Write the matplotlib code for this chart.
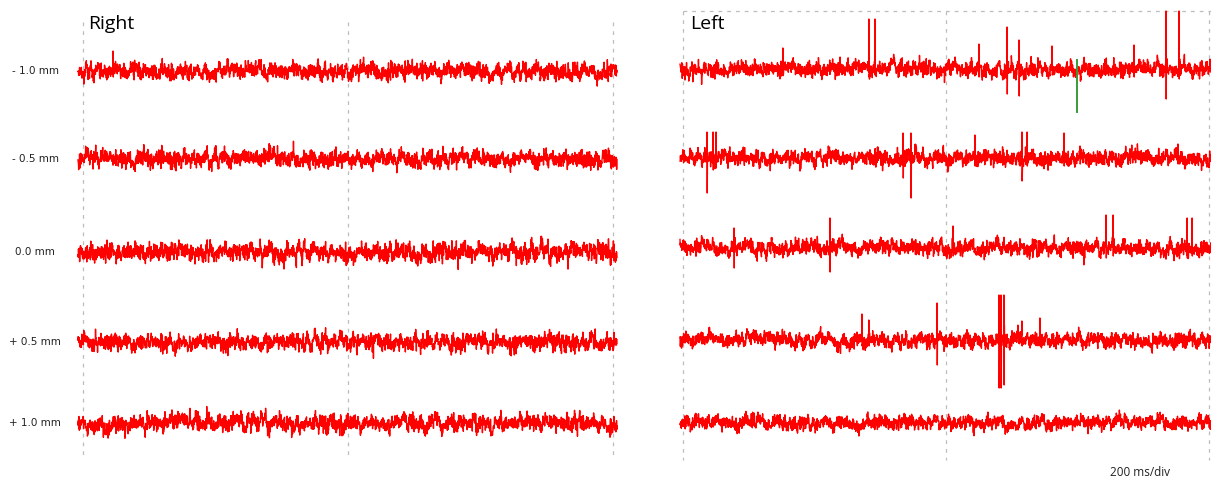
import numpy as np
import matplotlib.pyplot as plt

W, H = 1211, 479

# row labels and panel titles
row_labels = ["- 1.0 mm", "- 0.5 mm", "0.0 mm", "+ 0.5 mm", "+ 1.0 mm"]
panel_titles = ["Right", "Left"]
scale_label = "200 ms/div"

# baseline noise level of each trace (px units)
noise_right = [3.6, 3.6, 4.0, 3.6, 3.8]
noise_left = [3.4, 3.4, 3.4, 3.2, 3.1]

# spike events on the Left traces: time (ms), up amplitude, down amplitude
spikes_left = [
    # -1.0 mm
    [(76.0, 21, 6), (141.4, 50, 8), (146.0, 50, 6), (225.0, 25, 8), (246.4, 42, 25),
     (255.5, 29, 27), (280.6, 23, 6), (343.0, 24, 8), (367.3, 58, 30), (377.2, 58, 10)],
    # -0.5 mm
    [(18.3, 26, 35), (22.8, 26, 12), (25.1, 26, 10), (167.3, 25, 20), (173.4, 25, 40),
     (222.0, 23, 8), (257.8, 26, 23), (261.6, 26, 8), (289.7, 25, 8), (301.9, 12, 6),
     (376.4, 14, 6)],
    # 0.0 mm
    [(38.8, 20, 20), (111.8, 30, 24), (205.3, 22, 8), (321.7, 33, 10), (327.0, 33, 8),
     (383.3, 30, 10), (387.1, 30, 8)],
    # +0.5 mm
    [(136.1, 26, 6), (141.4, 20, 6), (193.2, 37, 25), (240.3, 45, 48), (241.8, 45, 48),
     (244.1, 45, 45), (257.8, 19, 6), (271.5, 22, 6)],
    # +1.0 mm
    [],
]
spikes_right = [[(22.6, 20, 6)], [], [], [], []]

# green marker on the Left -1.0 mm trace: time (ms), top, bottom (px above / below baseline)
green_mark = (299.6, 9, -43)

# layout (px from top)
rows_right = [71, 159, 252, 342, 423]
rows_left = [69, 158, 248, 340, 423]

rng = np.random.default_rng(7)


def make_trace(t, level, events):
    # background texture of the recording, then the read-off spike events
    white = rng.normal(0, level, t.size)
    slow = np.convolve(rng.normal(0, level * 1.4, t.size), np.ones(11) / 11, mode="same")
    y = white + slow * 1.8
    for tt, up, down in events:
        i = int(np.argmin(np.abs(t - tt)))
        y[i] = up
        if i + 1 < y.size:
            y[i + 1] = -down
    return y


fig = plt.figure(figsize=(W / 100, H / 100), dpi=100)
fig.patch.set_facecolor("white")

# Right panel: 265 px per 200 ms, 0 ms at x=83
sR = 265 / 200
axR = fig.add_axes([70 / W, 0, 550 / W, 1])
axR.set_xlim((70 - 83) / sR, (620 - 83) / sR)
axR.set_ylim(H, 0)
tR = np.linspace((78 - 83) / sR, (617 - 83) / sR, 2400)

# Left panel: 263 px per 200 ms, 0 ms at x=683
sL = 263 / 200
axL = fig.add_axes([675 / W, 0, 536 / W, 1])
axL.set_xlim((675 - 683) / sL, (1211 - 683) / sL)
axL.set_ylim(H, 0)
tL = np.linspace((680 - 683) / sL, (1211 - 683) / sL, 2360)

grid_kw = dict(color="#bdbdbd", lw=0.9, ls=(0, (3, 4)), zorder=0)
for x in [0, 200, 400]:
    axR.plot([x, x], [22, 458], **grid_kw)
    axL.plot([x, x], [11, 460], **grid_kw)
axL.plot([0, (1211 - 683) / sL], [11, 11], **grid_kw)

for k in range(5):
    yR = make_trace(tR, noise_right[k], spikes_right[k])
    axR.plot(tR, rows_right[k] - yR, color="#ff0000", lw=1.0, zorder=2)
    yL = make_trace(tL, noise_left[k], spikes_left[k])
    axL.plot(tL, rows_left[k] - yL, color="#ff0000", lw=1.0, zorder=2)
    fig.text(35 / W, 1 - rows_right[k] / H, row_labels[k], ha="center", va="center",
             fontsize=7.5, color="#222222", family="DejaVu Sans")

gt, gtop, gbot = green_mark
axL.plot([gt, gt], [rows_left[0] - gtop, rows_left[0] - gbot], color="#3a9a3a", lw=1.4, zorder=3)

for ax in (axR, axL):
    ax.axis("off")

fig.text(88 / W, 1 - 24 / H, panel_titles[0], ha="left", va="center", fontsize=14, family="Open Sans")
fig.text(690 / W, 1 - 24 / H, panel_titles[1], ha="left", va="center", fontsize=14, family="Open Sans")
fig.text(1140 / W, 1 - 472 / H, scale_label, ha="center", va="center", fontsize=8.5,
         color="#222222", family="Open Sans")

fig.savefig("out.png", dpi=100, facecolor="white")
